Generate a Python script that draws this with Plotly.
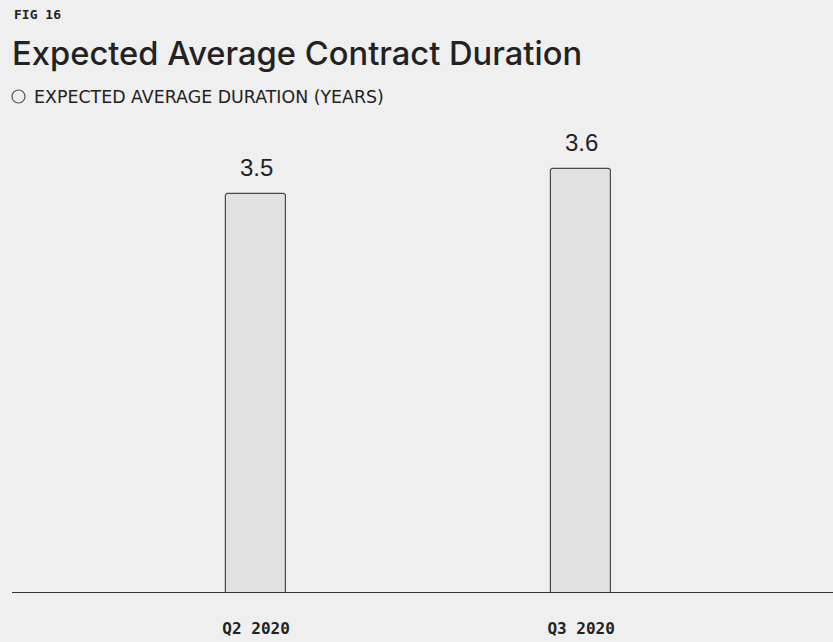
import plotly.graph_objects as go

# chart data
quarters = ["Q2 2020", "Q3 2020"]
durations = [3.5, 3.6]
series_name = "EXPECTED AVERAGE DURATION (YEARS)"

BG = "#efefef"
INK = "#222222"

fig = go.Figure()

# the bars
fig.add_trace(go.Bar(
    x=quarters,
    y=durations,
    width=0.185,
    marker=dict(color="#e1e1e1", line=dict(color="#4a4a4a", width=1.2), cornerradius=3),
    showlegend=False,
    hoverinfo="x+y",
))

# value labels above each bar
for q, v in zip(quarters, durations):
    fig.add_annotation(
        x=q, y=v, text=f"{v:.1f}", showarrow=False,
        yanchor="bottom", yshift=11,
        font=dict(family="Liberation Sans, Arial, sans-serif", size=24, color=INK),
    )

# figure number
fig.add_annotation(
    text="<b>FIG 16</b>", xref="paper", yref="paper", x=0, y=1,
    xanchor="left", yanchor="middle", yshift=116, showarrow=False,
    font=dict(family="DejaVu Sans Mono, monospace", size=13, color=INK),
)

# key: open circle + series name
fig.add_shape(
    type="circle", xref="paper", yref="paper",
    xsizemode="pixel", ysizemode="pixel", xanchor=0, yanchor=1,
    x0=0, x1=13, y0=27, y1=40,
    line=dict(color="#555555", width=1.2), fillcolor=BG,
)
fig.add_annotation(
    text=series_name, xref="paper", yref="paper", x=0, y=1,
    xanchor="left", yanchor="middle", xshift=20, yshift=33, showarrow=False,
    font=dict(family="DejaVu Sans, sans-serif", size=17.4, color=INK),
)

fig.update_layout(
    width=833, height=642,
    paper_bgcolor=BG, plot_bgcolor=BG,
    margin=dict(l=12, r=0, t=130, b=50),
    showlegend=False,
    title=dict(
        text="Expected Average Contract Duration",
        x=0.0145, xanchor="left", y=0.916, yanchor="middle",
        font=dict(family="Inter, sans-serif", size=32.7, weight=500, color=INK),
    ),
    xaxis=dict(
        type="category", range=[-0.751, 1.775],
        showline=True, linecolor="#333333", linewidth=1,
        showgrid=False, zeroline=False, ticks="",
        tickfont=dict(family="DejaVu Sans Mono, monospace", size=16, color=INK),
        tickprefix="<b>", ticksuffix="</b>",
        ticklabelstandoff=22,
    ),
    yaxis=dict(
        range=[1.908, 3.756], visible=False, showgrid=False, zeroline=False,
    ),
    bargap=0,
)

fig.write_html(
    "out.html",
    config={"displayModeBar": False},
    post_script="document.body.style.margin='0';",
)
